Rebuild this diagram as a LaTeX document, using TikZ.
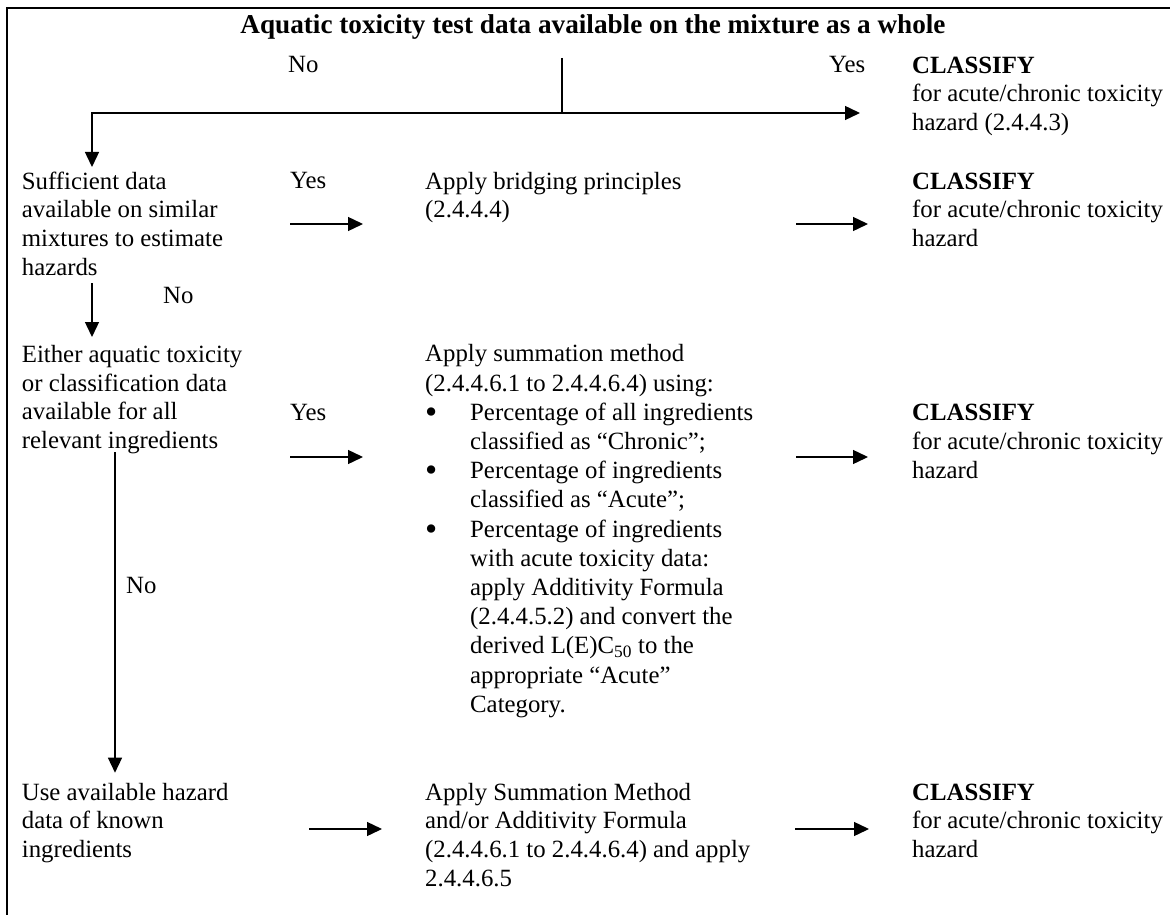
\documentclass[tikz,border=0pt]{standalone}
\usepackage{fontspec}
\usepackage{graphicx}
\setmainfont{Liberation Serif}
\usetikzlibrary{arrows.meta}
\newcommand{\firststrut}{\rule{0pt}{20pt}}
\newcommand{\bul}{\makebox[45pt][l]{\raisebox{-3pt}{\scalebox{1.4}{•}}}}
\newcommand{\ind}{\hspace*{45pt}}
\begin{document}
\begin{tikzpicture}[x=1pt,y=-1pt,
  txt/.style={anchor=north west, inner sep=0pt, align=left, font=\fontsize{24.8}{28.6}\selectfont},
  txtb/.style={txt, font=\fontsize{24.8}{29.2}\selectfont},
  lbl/.style={anchor=base west, inner sep=0pt, font=\fontsize{24.8}{28.6}\selectfont},
  arr/.style={line width=1.4pt, -{Triangle[length=15pt,width=14pt]}},
  ln/.style={line width=1.4pt},
  frame/.style={line width=1.8pt}]
\useasboundingbox (0,0) rectangle (1170,915);
\draw[frame] (7,915) -- (7,8) -- (1170,8);

% title and top decision
\node[anchor=base, inner sep=0pt, font=\bfseries\fontsize{27.2}{31}\selectfont] (title) at (593,34) {Aquatic toxicity test data available on the mixture as a whole};
\node[lbl] (no0) at (288,73) {No};
\node[lbl] (yes0) at (829,73) {Yes};
\node[txt] (cls0) at (912,53) {\firststrut\textbf{CLASSIFY}\\for acute/chronic toxicity\\hazard (2.4.4.3)};
\coordinate (stem) at (562,58);
\coordinate (junc) at (562,113);
\coordinate (bl) at (92,113);
\coordinate (br) at (860,113);
\coordinate (d1) at (92,167);
\draw[ln] (stem) -- (junc);
\draw[arr] (junc) -- (br);
\draw[arr] (junc) -- (bl) -- (d1);

% row 1
\node[txt] (q1) at (21.7,169) {\firststrut Sufficient data\\available on similar\\mixtures to estimate\\hazards};
\node[lbl] (yes1) at (290,189) {Yes};
\node[txt] (a1) at (425,169) {\firststrut Apply bridging principles\\(2.4.4.4)};
\node[txt] (cls1) at (912,169) {\firststrut\textbf{CLASSIFY}\\for acute/chronic toxicity\\hazard};
\coordinate (r1a) at (290,224); \coordinate (r1b) at (363,224);
\coordinate (r1c) at (796,224); \coordinate (r1d) at (868,224);
\draw[arr] (r1a) -- (r1b);
\draw[arr] (r1c) -- (r1d);
\coordinate (v1a) at (92,283); \coordinate (v1b) at (92,337);
\draw[arr] (v1a) -- (v1b);
\node[lbl] (no1) at (163,303) {No};

% row 2
\node[txt] (q2) at (21.7,342.5) {\firststrut Either aquatic toxicity\\or classification data\\available for all\\relevant ingredients};
\node[lbl] (yes2) at (290,420) {Yes};
\node[txtb] (a2) at (425,341.7) {\firststrut Apply summation method\\(2.4.4.6.1 to 2.4.4.6.4) using:\\\bul Percentage of all ingredients\\\ind classified as “Chronic”;\\\bul Percentage of ingredients\\\ind classified as “Acute”;\\\bul Percentage of ingredients\\\ind with acute toxicity data:\\\ind apply Additivity Formula\\\ind (2.4.4.5.2) and convert the\\\ind derived L(E)C\textsubscript{50} to the\\\ind appropriate “Acute”\\\ind Category.};
\node[txt] (cls2) at (912,400.7) {\firststrut\textbf{CLASSIFY}\\for acute/chronic toxicity\\hazard};
\coordinate (r2a) at (290,457); \coordinate (r2b) at (363,457);
\coordinate (r2c) at (796,457); \coordinate (r2d) at (868,457);
\draw[arr] (r2a) -- (r2b);
\draw[arr] (r2c) -- (r2d);
\coordinate (v2a) at (115,452); \coordinate (v2b) at (115,772.7);
\draw[arr] (v2a) -- (v2b);
\node[lbl] (no2) at (126,593) {No};

% row 3
\node[txt] (q3) at (21.7,780) {\firststrut Use available hazard\\data of known\\ingredients};
\node[txt] (a3) at (425,780) {\firststrut Apply Summation Method\\and/or Additivity Formula\\(2.4.4.6.1 to 2.4.4.6.4) and apply\\2.4.4.6.5};
\node[txt] (cls3) at (912,780) {\firststrut\textbf{CLASSIFY}\\for acute/chronic toxicity\\hazard};
\coordinate (r3a) at (309,829); \coordinate (r3b) at (382,829);
\coordinate (r3c) at (795,829); \coordinate (r3d) at (869,829);
\draw[arr] (r3a) -- (r3b);
\draw[arr] (r3c) -- (r3d);
\end{tikzpicture}
\end{document}
